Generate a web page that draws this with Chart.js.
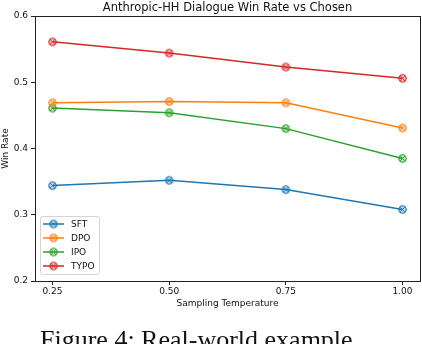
<!DOCTYPE html>
<html><head><meta charset="utf-8">
<script src="https://cdn.jsdelivr.net/npm/chart.js@4"></script>
<style>
html,body{margin:0;padding:0;background:#fff;}
#wrap{position:relative;width:422px;height:344px;overflow:hidden;}
#caption{position:absolute;left:40px;top:327px;font-family:"Liberation Serif","Times New Roman",serif;font-size:26px;line-height:1;white-space:nowrap;color:#111;}
</style></head>
<body>
<div id="wrap">
<canvas id="c" width="422" height="344"></canvas>
<div id="caption">Figure 4: Real-world example</div>
</div>
<script>
const chartTitle = 'Anthropic-HH Dialogue Win Rate vs Chosen';
const temperatures = [0.25, 0.50, 0.75, 1.00];
const seriesNames = ["SFT", "DPO", "IPO", "TYPO"];
const sftValues  = [0.344, 0.352, 0.338, 0.308];
const dpoValues  = [0.469, 0.471, 0.469, 0.431];
const ipoValues  = [0.461, 0.454, 0.430, 0.385];
const typoValues = [0.561, 0.544, 0.523, 0.506];
const yTicks = [0.2, 0.3, 0.4, 0.5, 0.6];
const xTicks = [0.25, 0.50, 0.75, 1.00];
const colors = ["#1f77b4", "#ff7f0e", "#2ca02c", "#d62728"];
const FONT = "'DejaVu Sans', sans-serif";

function markerImg(color){
  const s = 11, c = document.createElement('canvas');
  c.width = s; c.height = s;
  const g = c.getContext('2d');
  const m = s/2;
  g.beginPath(); g.arc(m, m, 3.7, 0, Math.PI*2);
  g.globalAlpha = 0.3; g.fillStyle = color; g.fill();
  g.globalAlpha = 1; g.lineWidth = 1.1; g.strokeStyle = color; g.stroke();
  g.beginPath(); g.lineWidth = 0.9;
  g.moveTo(m-2.4, m-2.4); g.lineTo(m+2.4, m+2.4);
  g.moveTo(m+2.4, m-2.4); g.lineTo(m-2.4, m+2.4);
  g.stroke();
  return c;
}
const markers = colors.map(markerImg);
const allValues = [sftValues, dpoValues, ipoValues, typoValues];

const datasets = seriesNames.map((n, i) => ({
  label: n,
  data: temperatures.map((t, j) => ({x: t, y: allValues[i][j]})),
  borderColor: colors[i],
  backgroundColor: colors[i],
  borderWidth: 1.5,
  pointStyle: markers[i],
  pointRadius: 5,
  tension: 0
}));

const framePlugin = {
  id: 'frame',
  afterDatasetsDraw(chart){
    const {ctx, chartArea: a} = chart;
    ctx.save();
    ctx.strokeStyle = '#222'; ctx.lineWidth = 1;
    ctx.strokeRect(Math.round(a.left)+0.5, Math.round(a.top)+0.5, Math.round(a.right - a.left), Math.round(a.bottom - a.top));
    ctx.fillStyle = '#111';
    ctx.font = "11.5px " + FONT;
    ctx.textAlign = 'center';
    ctx.textBaseline = 'alphabetic';
    ctx.fillText(chartTitle, (a.left + a.right) / 2, 10.5);
    ctx.restore();
  }
};

const legendPlugin = {
  id: 'boxLegend',
  afterDraw(chart){
    const ctx = chart.ctx;
    const x0 = 40.5, y0 = 216.5, w = 59, h = 58;
    ctx.save();
    ctx.fillStyle = 'rgba(255,255,255,0.85)';
    ctx.strokeStyle = '#d4d4d4'; ctx.lineWidth = 1;
    ctx.beginPath();
    if (ctx.roundRect) ctx.roundRect(x0, y0, w, h, 2); else ctx.rect(x0, y0, w, h);
    ctx.fill(); ctx.stroke();
    ctx.font = "9px " + FONT;
    ctx.textBaseline = 'middle';
    chart.data.datasets.forEach((d, i) => {
      const y = 224 + i*14;
      ctx.strokeStyle = d.borderColor; ctx.lineWidth = 1.5;
      ctx.beginPath(); ctx.moveTo(43, y); ctx.lineTo(64, y); ctx.stroke();
      ctx.drawImage(d.pointStyle, 53.5 - 5.5, y - 5.5);
      ctx.fillStyle = '#111';
      ctx.fillText(d.label, 71, y + 0.5);
    });
    ctx.restore();
  }
};

new Chart(document.getElementById('c'), {
  type: 'line',
  data: { datasets },
  plugins: [framePlugin, legendPlugin],
  options: {
    responsive: false,
    animation: false,
    layout: { autoPadding: false, padding: { left: 0, right: 2, top: 16, bottom: 35 } },
    plugins: {
      legend: { display: false },
      tooltip: { enabled: false },
      title: { display: false }
    },
    scales: {
      x: {
        type: 'linear',
        min: 0.2125, max: 1.0375,
        afterBuildTicks(s){ s.ticks = xTicks.map(v => ({value: v})); },
        afterFit(s){ s.height = 28; },
        grid: { display: true, drawOnChartArea: false, drawTicks: true, tickLength: 4, color: '#222' },
        border: { display: false },
        ticks: { color: '#111', padding: 1, font: { family: FONT, size: 9 }, callback: v => v.toFixed(2), maxRotation: 0 },
        title: { display: true, text: 'Sampling Temperature', color: '#111', font: { family: FONT, size: 9 }, padding: { top: 1, bottom: 0 } }
      },
      y: {
        min: 0.2, max: 0.6,
        afterBuildTicks(s){ s.ticks = yTicks.map(v => ({value: v})); },
        afterFit(s){ s.width = 35; },
        grid: { display: true, drawOnChartArea: false, drawTicks: true, tickLength: 4, color: '#222' },
        border: { display: false },
        ticks: { color: '#111', padding: 3, font: { family: FONT, size: 9 }, callback: v => v.toFixed(1) },
        title: { display: true, text: 'Win Rate', color: '#111', font: { family: FONT, size: 9 }, padding: { top: 0, bottom: 0 } }
      }
    }
  }
});
</script>
</body></html>
